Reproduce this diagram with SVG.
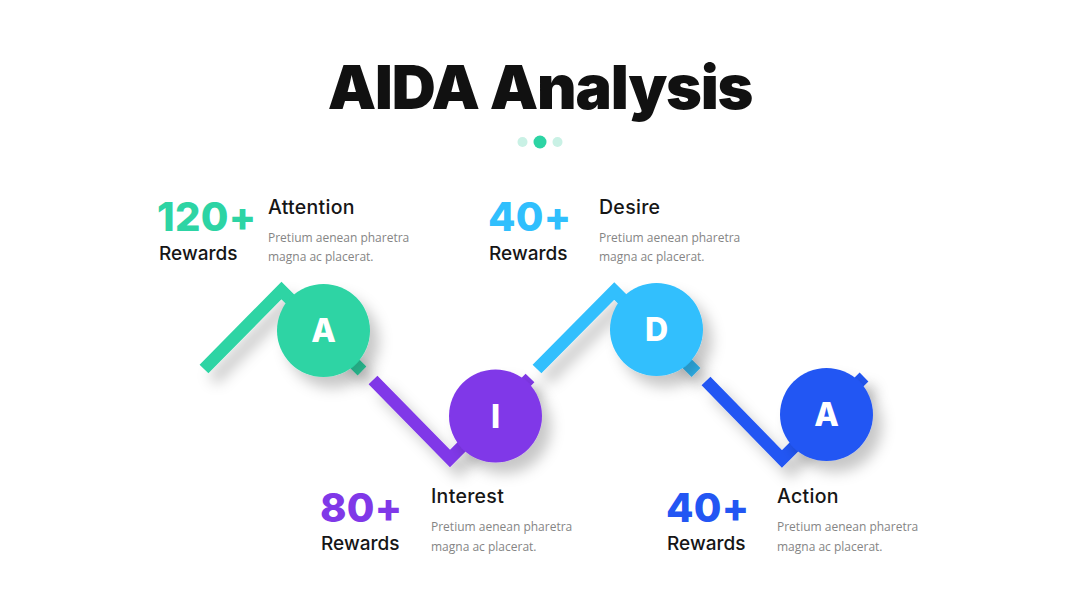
<svg xmlns="http://www.w3.org/2000/svg" width="1080" height="608" viewBox="0 0 1080 608">
<defs>
<filter id="sh" x="-50%" y="-50%" width="200%" height="200%">
<feDropShadow dx="9" dy="11" stdDeviation="7" flood-color="#000" flood-opacity="0.22"/>
</filter>
<style>
.title{font-family:Inter,"Liberation Sans",sans-serif;font-weight:900;font-size:61px;fill:#111;letter-spacing:-1.2px}
.num{font-family:Inter,"Liberation Sans",sans-serif;font-weight:800;font-size:40px;letter-spacing:0.3px}
.rew{font-family:Inter,"Liberation Sans",sans-serif;font-weight:500;font-size:19px;fill:#161616}
.head{font-family:Inter,"Liberation Sans",sans-serif;font-weight:500;font-size:19.5px;fill:#161616;letter-spacing:0.3px}
.desc{font-family:"Open Sans","Liberation Sans",sans-serif;font-weight:400;font-size:12px;fill:#858585}
.ltr{font-family:Inter,"Liberation Sans",sans-serif;font-weight:800;font-size:32px;fill:#fff;text-anchor:middle}
.ln{fill:none;stroke-width:12.4;stroke-linejoin:miter;stroke-linecap:butt}
</style>
</defs>
<rect width="1080" height="608" fill="#fff"/>
<text class="title" x="540" y="109" text-anchor="middle">AIDA Analysis</text>
<g id="dots">
<circle cx="522.5" cy="142" r="5" fill="#c9f1e5"/>
<circle cx="540" cy="142" r="6.5" fill="#2dd4a4"/>
<circle cx="557.5" cy="142" r="5" fill="#c9f1e5"/>
</g>
<g id="connectors" filter="url(#sh)">
<polyline class="ln" stroke="#2dd4a4" points="204,369 281.5,290.5 362,371"/>
<polyline class="ln" stroke="#8038e8" points="373,380 450,458.5 530,378"/>
<polyline class="ln" stroke="#30bffd" points="537,369 614.3,291 696,372.5"/>
<polyline class="ln" stroke="#2356f3" points="706,381 782,459 864,377"/>
</g>
<g id="node-attention">
<circle cx="323.5" cy="330.5" r="46.5" fill="#2dd4a4" filter="url(#sh)"/>
<text class="ltr" x="323.5" y="342">A</text>
<text class="num" x="157" y="231" fill="#2dd4a4">120+</text>
<text class="rew" x="159" y="260">Rewards</text>
<text class="head" x="268" y="214">Attention</text>
<text class="desc" x="268" y="242">Pretium aenean pharetra</text>
<text class="desc" x="268" y="261">magna ac placerat.</text>
</g>
<g id="node-interest">
<circle cx="495.5" cy="416" r="46.5" fill="#8038e8" filter="url(#sh)"/>
<text class="ltr" x="495.5" y="427.5">I</text>
<text class="num" x="320" y="522" fill="#8038e8">80+</text>
<text class="rew" x="321" y="550">Rewards</text>
<text class="head" x="431" y="503">Interest</text>
<text class="desc" x="431" y="531">Pretium aenean pharetra</text>
<text class="desc" x="431" y="551">magna ac placerat.</text>
</g>
<g id="node-desire">
<circle cx="656.5" cy="329.5" r="46.5" fill="#30bffd" filter="url(#sh)"/>
<text class="ltr" x="656.5" y="341">D</text>
<text class="num" x="488" y="231" fill="#30bffd">40+</text>
<text class="rew" x="489" y="260">Rewards</text>
<text class="head" x="599" y="214">Desire</text>
<text class="desc" x="599" y="242">Pretium aenean pharetra</text>
<text class="desc" x="599" y="261">magna ac placerat.</text>
</g>
<g id="node-action">
<circle cx="826.5" cy="414.5" r="46.5" fill="#2356f3" filter="url(#sh)"/>
<text class="ltr" x="826.5" y="426">A</text>
<text class="num" x="666" y="522" fill="#2356f3">40+</text>
<text class="rew" x="667" y="550">Rewards</text>
<text class="head" x="777" y="503">Action</text>
<text class="desc" x="777" y="531">Pretium aenean pharetra</text>
<text class="desc" x="777" y="551">magna ac placerat.</text>
</g>
</svg>
